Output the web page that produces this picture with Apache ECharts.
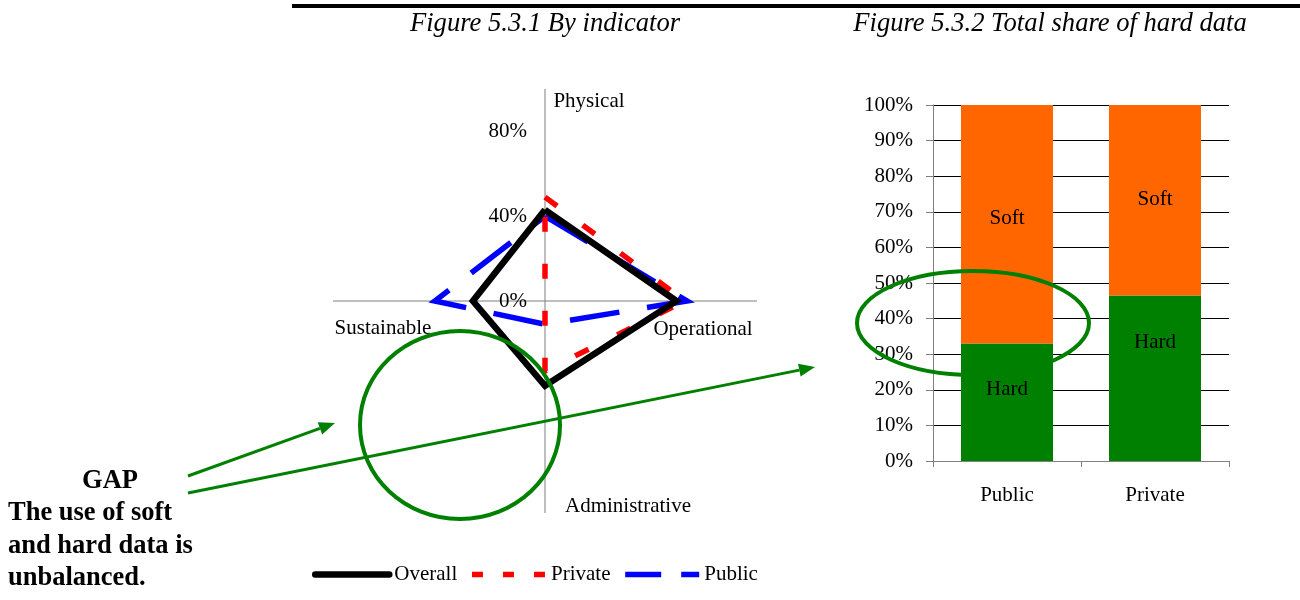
<!DOCTYPE html>
<html><head><meta charset="utf-8">
<script src="https://cdn.jsdelivr.net/npm/echarts@6/dist/echarts.min.js"></script>
<style>html,body{margin:0;padding:0;background:#fff}#c{width:1300px;height:600px}</style>
</head><body><div id="c"></div>
<script>
// ---- Figure 5.3.1 (radar by indicator) ----
const indicators = ['Physical', 'Operational', 'Administrative', 'Sustainable'];
const overallVals = [43, 62, 40, 34];
const privateVals = [49, 66, 33, 0];
const publicVals = [40, 67, 11, 52];
const radarTickLabels = [0, 40, 80];

// ---- Figure 5.3.2 (total share of hard data) ----
const barCategories = ['Public', 'Private'];
const hardShare = [33, 46.5];
const softShare = [67, 53.5];
const yTicks = [0, 10, 20, 30, 40, 50, 60, 70, 80, 90, 100];

const FONT = 'Liberation Serif';
const GREEN = '#008000';
const step = 360 / indicators.length;

function ring(vals) {
  const pts = vals.map((v, i) => [v, i * step]);
  pts.push([vals[0], 360]);
  return pts;
}

// arrowhead helper (annotation graphics)
function arrow(x1, y1, x2, y2, color) {
  const dx = x2 - x1, dy = y2 - y1, L = Math.hypot(dx, dy);
  const ux = dx / L, uy = dy / L, nx = -uy, ny = ux;
  const hl = 16, hw = 6.5;
  const bx = x2 - hl * ux, by = y2 - hl * uy;
  return [
    { type: 'line', shape: { x1, y1, x2: bx, y2: by }, style: { stroke: color, lineWidth: 3 }, z: 50 },
    { type: 'polygon', shape: { points: [[x2, y2], [bx + hw * nx, by + hw * ny], [bx - hw * nx, by - hw * ny]] }, style: { fill: color }, z: 50 }
  ];
}

const nameOffsets = [[44, 12], [-54, 28], [83, -7], [50, 27]];
const hardLabelOffsets = [-13, -36];
const softLabelOffsets = [-6, -1];
const hiddenSymbol = { opacity: 0, color: 'rgba(0,0,0,0)', borderWidth: 0 };

const chart = echarts.init(document.getElementById('c'), null, { renderer: 'canvas' });

const titleStyle = { fontSize: 26.6, fontFamily: FONT, fontStyle: 'italic', fill: '#000', align: 'center', verticalAlign: 'middle', textAlign: 'center', textVerticalAlign: 'middle' };
const gapStyle = { fontSize: 26.5, fontWeight: 'bold', fontFamily: FONT, fill: '#000', verticalAlign: 'middle', textVerticalAlign: 'middle' };

const option = {
  animation: false,
  backgroundColor: '#fff',
  textStyle: { fontFamily: FONT },
  polar: { center: [545, 301], radius: 212 },
  angleAxis: {
    type: 'value', min: 0, max: 360, interval: step, startAngle: 90, clockwise: true,
    axisLine: { show: false }, axisTick: { show: false }, axisLabel: { show: false },
    splitLine: { show: true, lineStyle: { color: '#7f7f7f', width: 1 } }
  },
  radiusAxis: {
    type: 'value', min: 0, max: 100, interval: 40,
    axisLine: { show: false }, axisTick: { show: false },
    splitLine: { show: false },
    axisLabel: {
      show: true, margin: 18, fontSize: 21, fontFamily: FONT, color: '#000',
      showMaxLabel: false,
      formatter: v => radarTickLabels.indexOf(v) >= 0 ? v + '%' : ''
    },
    z: 5
  },
  grid: { left: 933, top: 105, width: 296, height: 356 },
  xAxis: {
    type: 'category', data: barCategories, gridIndex: 0,
    axisLine: { lineStyle: { color: '#808080', width: 1 } },
    axisTick: { show: true, length: 6, alignWithLabel: false, lineStyle: { color: '#808080' } },
    axisLabel: { fontSize: 21, fontFamily: FONT, color: '#000', margin: 24 }
  },
  yAxis: {
    type: 'value', gridIndex: 0, min: 0, max: 100, interval: 10,
    axisLine: { show: true, lineStyle: { color: '#808080', width: 1 } },
    axisTick: { show: true, length: 7, lineStyle: { color: '#808080' } },
    axisLabel: { fontSize: 21, fontFamily: FONT, color: '#000', margin: 20,
      formatter: v => yTicks.indexOf(v) >= 0 ? v + '%' : '' },
    splitLine: { show: true, lineStyle: { color: '#000', width: 1 } }
  },
  legend: {
    left: 312, top: 564, padding: 0, itemGap: 12, itemWidth: 74, itemHeight: 14,
    textStyle: { fontSize: 21, fontFamily: FONT, color: '#000' },
    data: [
      { name: 'Overall', itemStyle: hiddenSymbol, lineStyle: { width: 6.5, cap: 'round', type: 'solid' } },
      { name: 'Private', itemStyle: hiddenSymbol, lineStyle: { width: 5.5, type: [11, 20] } },
      { name: 'Public', itemStyle: hiddenSymbol, lineStyle: { width: 5.5, type: [36, 20] } }
    ]
  },
  series: [
    { name: 'Public', type: 'line', coordinateSystem: 'polar', polarIndex: 0, data: ring(publicVals),
      symbol: 'none', z: 3, lineStyle: { color: '#0000ff', width: 5.5, type: [50, 28], join: 'miter' }, itemStyle: { color: '#0000ff' } },
    { name: 'Private', type: 'line', coordinateSystem: 'polar', polarIndex: 0, data: ring(privateVals),
      symbol: 'none', z: 4, lineStyle: { color: '#ff0000', width: 5.5, type: [15, 32], join: 'miter' }, itemStyle: { color: '#ff0000' } },
    { name: 'Overall', type: 'line', coordinateSystem: 'polar', polarIndex: 0, data: ring(overallVals),
      symbol: 'none', z: 5, lineStyle: { color: '#000', width: 6.5, type: 'solid', join: 'miter' }, itemStyle: { color: '#000' } },
    { name: 'axisNames', type: 'scatter', coordinateSystem: 'polar', polarIndex: 0, silent: true,
      symbolSize: 1, itemStyle: { color: 'rgba(0,0,0,0)' },
      data: indicators.map((n, i) => ({ value: [100, i * step], name: n,
        label: { offset: nameOffsets[i] } })),
      label: { show: true, position: 'inside', formatter: p => p.name, fontSize: 21, fontFamily: FONT, color: '#000', opacity: 1 } },
    { name: 'Hard', type: 'bar', stack: 'share', xAxisIndex: 0, yAxisIndex: 0, barWidth: 92,
      itemStyle: { color: GREEN },
      data: hardShare.map((v, i) => ({ value: v, label: { offset: [0, hardLabelOffsets[i]] } })),
      label: { show: true, position: 'inside', formatter: 'Hard', fontSize: 21, fontFamily: FONT, color: '#000' } },
    { name: 'Soft', type: 'bar', stack: 'share', xAxisIndex: 0, yAxisIndex: 0, barWidth: 92,
      itemStyle: { color: '#ff6600' },
      data: softShare.map((v, i) => ({ value: v, label: { offset: [0, softLabelOffsets[i]] } })),
      label: { show: true, position: 'inside', formatter: 'Soft', fontSize: 21, fontFamily: FONT, color: '#000' } }
  ],
  graphic: [
    { type: 'rect', shape: { x: 292, y: 4, width: 1008, height: 4 }, style: { fill: '#000' } },
    { type: 'text', x: 545, y: 24, style: Object.assign({ text: 'Figure 5.3.1 By indicator' }, titleStyle) },
    { type: 'text', x: 1050, y: 24, style: Object.assign({ text: 'Figure 5.3.2 Total share of hard data' }, titleStyle) },
    { type: 'ellipse', shape: { cx: 460, cy: 425, rx: 100, ry: 94 }, style: { fill: 'none', stroke: GREEN, lineWidth: 4 }, z: 50 },
    { type: 'ellipse', shape: { cx: 973, cy: 323, rx: 116, ry: 52 }, style: { fill: 'none', stroke: GREEN, lineWidth: 4 }, z: 50 },
    ...arrow(188, 476, 335, 423, GREEN),
    ...arrow(188, 493, 815, 367, GREEN),
    { type: 'text', x: 110, y: 481, style: Object.assign({ text: 'GAP', align: 'center', textAlign: 'center' }, gapStyle) },
    { type: 'text', x: 8, y: 513, style: Object.assign({ text: 'The use of soft', align: 'left', textAlign: 'left' }, gapStyle) },
    { type: 'text', x: 8, y: 546, style: Object.assign({ text: 'and hard data is', align: 'left', textAlign: 'left' }, gapStyle) },
    { type: 'text', x: 8, y: 578, style: Object.assign({ text: 'unbalanced.', align: 'left', textAlign: 'left' }, gapStyle) }
  ]
};
chart.setOption(option);
</script></body></html>
